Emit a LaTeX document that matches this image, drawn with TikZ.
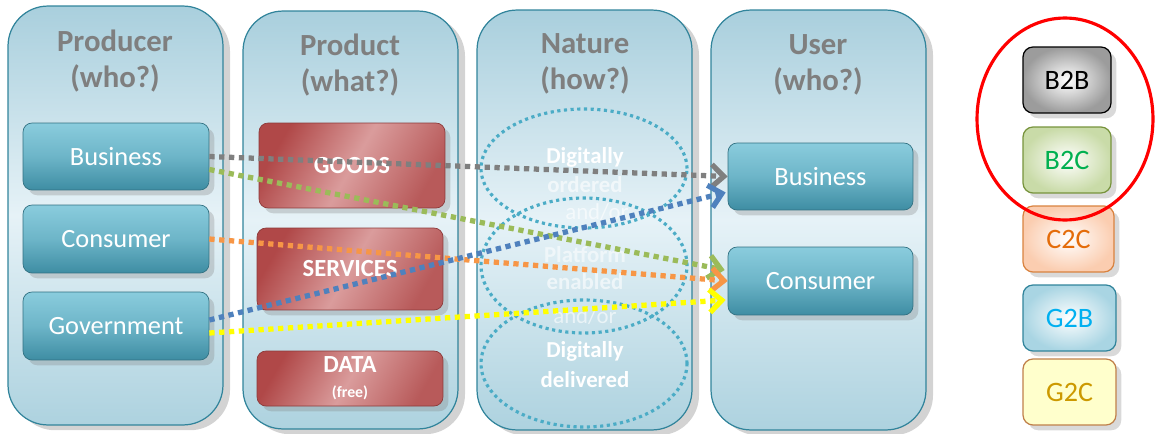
\documentclass[tikz,border=0pt]{standalone}
\usepackage{fontspec}
\setmainfont{Carlito}
\usetikzlibrary{shapes.geometric,shadows,arrows.meta,calc}
\definecolor{colTop}{HTML}{A9CFDD}
\definecolor{colMid}{HTML}{E6F2F7}
\definecolor{colBot}{HTML}{ADD2DF}
\definecolor{colLine}{HTML}{31849B}
\definecolor{titleGray}{HTML}{7F7F7F}
\definecolor{tealTop}{HTML}{8ACCDD}
\definecolor{tealMid}{HTML}{6DB5C8}
\definecolor{tealBot}{HTML}{3E8DA3}
\definecolor{redA}{HTML}{B04848}
\definecolor{redB}{HTML}{DA9C9C}
\definecolor{ellCol}{HTML}{4BACC6}
\definecolor{arrGray}{HTML}{7F7F7F}
\definecolor{arrGreen}{HTML}{9BBB59}
\definecolor{arrOrange}{HTML}{F79646}
\definecolor{arrBlue}{HTML}{4F81BD}
\definecolor{arrYellow}{HTML}{FFFF00}
\definecolor{b2bEdge}{HTML}{9C9C9C}
\definecolor{b2cFill}{HTML}{C9DBA8}
\definecolor{b2cLine}{HTML}{77933C}
\definecolor{b2cText}{HTML}{00B050}
\definecolor{c2cFill}{HTML}{FBCDB0}
\definecolor{c2cLine}{HTML}{D9823F}
\definecolor{c2cText}{HTML}{E46C0A}
\definecolor{g2bFill}{HTML}{A9D5E3}
\definecolor{g2bText}{HTML}{00B0F0}
\definecolor{g2cFill}{HTML}{FFFFCC}
\definecolor{g2cLine}{HTML}{C0804A}
\definecolor{g2cText}{HTML}{CC9900}
\begin{document}
\begin{tikzpicture}[x=0.02cm,y=-0.02cm,
  column/.style={draw=colLine, line width=0.7pt, rounded corners=0.8cm,
    top color=colTop, bottom color=colBot, middle color=colMid,
    minimum width=4.3cm, inner sep=0pt,
    drop shadow={opacity=0.35, shadow xshift=4pt, shadow yshift=-3pt}},
  title/.style={text=titleGray, font=\fontsize{17.5}{20.5}\selectfont\bfseries, align=center},
  whobox/.style={rounded corners=0.18cm, draw=tealBot!80!black, line width=0.4pt,
    top color=tealTop, bottom color=tealBot, middle color=tealMid,
    text=white, font=\fontsize{15}{18}\selectfont, inner sep=0pt,
    drop shadow={opacity=0.3, shadow xshift=3pt, shadow yshift=-3pt}},
  whatbox/.style={rounded corners=0.18cm, draw=redA!80!black, line width=0.4pt,
    left color=redA, right color=redA!90!white, middle color=redB, shading angle=60,
    text=white, font=\fontsize{14}{16}\selectfont\bfseries, inner sep=0pt,
    minimum width=3.72cm,
    drop shadow={opacity=0.3, shadow xshift=3pt, shadow yshift=-3pt}},
  nat/.style={ellipse, draw=ellCol, line width=1.8pt, dash pattern=on 1.8pt off 2pt,
    minimum width=4.12cm, inner sep=0pt},
  nattext/.style={text=white, font=\fontsize{13}{15}\selectfont\bfseries},
  flow/.style={line width=3pt, dash pattern=on 3pt off 2.6pt,
    -{Straight Barb[length=7pt,width=13pt]}},
  legend/.style={rounded corners=0.2cm, line width=0.7pt, inner sep=0pt,
    minimum height=1.32cm, font=\fontsize{16}{19}\selectfont,
    drop shadow={opacity=0.3, shadow xshift=3pt, shadow yshift=-3pt}}
]
\useasboundingbox (0,0) rectangle (1163,433);

% columns
\node[column, minimum height=8.38cm] (c1) at (115.5,215.5) {};
\node[column, minimum height=8.36cm] (c2) at (350.5,220) {};
\node[column, minimum height=8.4cm] (c3) at (584.5,220) {};
\node[column, minimum height=8.4cm] (c4) at (818.5,220) {};

% titles
\node[title] (t1) at (115,61.5) {Producer\\(who?)};
\node[title] (t2) at (350,65) {Product\\(what?)};
\node[title] (t3) at (585,64) {Nature\\(how?)};
\node[title] (t4) at (818,64.5) {User\\(who?)};

% producer boxes
\node[whobox, minimum width=3.72cm, minimum height=1.34cm] (pb) at (116,156.5) {Business};
\node[whobox, minimum width=3.72cm, minimum height=1.36cm] (pc) at (116,239) {Consumer};
\node[whobox, minimum width=3.72cm, minimum height=1.36cm] (pg) at (116,326) {Government};

% product boxes
\node[whatbox, minimum height=1.7cm] (goods) at (352,165.5) {GOODS};
\node[whatbox, minimum height=1.64cm] (serv) at (350,269) {SERVICES};
\node[whatbox, minimum height=1.1cm, align=center] (data) at (350,378.5)
  {DATA\\[-2pt]{\fontsize{9}{10}\selectfont(free)}};

% user boxes
\node[whobox, minimum width=3.7cm, minimum height=1.34cm] (ub) at (820.5,176.5) {Business};
\node[whobox, minimum width=3.7cm, minimum height=1.36cm] (uc) at (820.5,281) {Consumer};

% nature texts
\node[nattext] (n1) at (585,157) {Digitally};
\node[nattext, opacity=0.6] (n2) at (585,185) {ordered};
\node[nattext, font=\fontsize{13}{15}\selectfont, opacity=0.6] (n3) at (597,212) {and/or};
\node[nattext, opacity=0.55] (n4) at (585,255) {Platform};
\node[nattext, opacity=0.6] (n5) at (585,282) {enabled};
\node[nattext, font=\fontsize{13}{15}\selectfont, opacity=0.6] (n6) at (585,316) {and/or};
\node[nattext] (n7) at (585,351) {Digitally};
\node[nattext] (n8) at (585,380) {delivered};

% nature ellipses
\node[nat, minimum height=2.38cm] (e1) at (584,168.5) {};
\node[nat, minimum height=2.7cm] (e2) at (584,265.5) {};
\node[nat, minimum height=2.54cm] (e3) at (584,363.5) {};

% flows
\draw[flow, draw=arrGray] (pb.east) -- (ub.west);
\draw[flow, draw=arrGreen] ($(pb.east)+(0,13)$) -- ($(uc.west)+(-3,-11)$);
\draw[flow, draw=arrOrange] (pc.east) -- (uc.west);
\draw[flow, draw=arrBlue] ($(pg.east)+(0,-6)$) -- ($(ub.west)+(-2,16)$);
\draw[flow, draw=arrYellow] ($(pg.east)+(0,7)$) -- ($(uc.west)+(-2,19)$);

% legend
\node[legend, draw=black, inner color=white, outer color=b2bEdge,
  minimum width=1.76cm, text=black] (b2b) at (1067,80) {B2B};
\node[legend, draw=b2cLine, inner color=white, outer color=b2cFill,
  minimum width=1.76cm, text=b2cText] (b2c) at (1067,160) {B2C};
\node[legend, draw=c2cLine, inner color=white, outer color=c2cFill,
  minimum width=1.82cm, text=c2cText] (c2c) at (1068.5,239) {C2C};
\node[legend, draw=colLine, inner color=white, outer color=g2bFill,
  minimum width=1.86cm, text=g2bText] (g2b) at (1069.5,318) {G2B};
\node[legend, draw=g2cLine, fill=g2cFill, minimum width=1.86cm,
  text=g2cText] (g2c) at (1069.5,392) {G2C};
\node[ellipse, draw=red, line width=1.8pt, minimum width=3.52cm, minimum height=4.04cm,
  inner sep=0pt] (ring) at (1065,119) {};
\end{tikzpicture}
\end{document}
